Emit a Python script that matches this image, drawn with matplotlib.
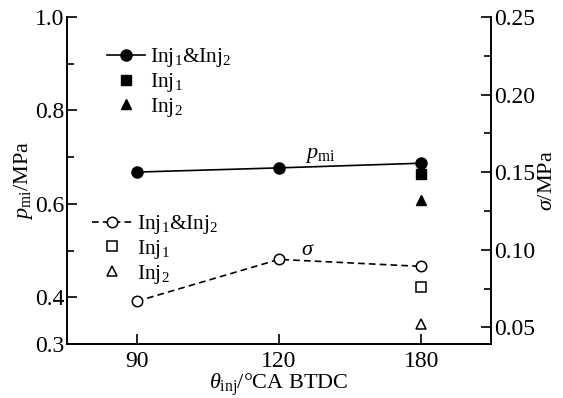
import matplotlib
matplotlib.use("Agg")
import matplotlib.pyplot as plt
from matplotlib.lines import Line2D
from matplotlib.ticker import MultipleLocator

plt.rcParams['font.family'] = ['Liberation Serif', 'DejaVu Serif']
plt.rcParams['mathtext.fontset'] = 'custom'
plt.rcParams['mathtext.rm'] = 'Liberation Serif'
plt.rcParams['mathtext.it'] = 'Liberation Serif:italic'
plt.rcParams['font.size'] = 16

# data
categories = ['90', '120', '180']
pmi_both = [0.668, 0.677, 0.687]
pmi_inj1 = [0.664]
pmi_inj2 = [0.608]
sigma_both = [0.0668, 0.0938, 0.0893]
sigma_inj1 = [0.0758]
sigma_inj2 = [0.052]

x = list(range(len(categories)))

fig = plt.figure(figsize=(5.63, 3.98), dpi=100)
ax = fig.add_axes([0.119, 0.1357, 0.753, 0.8216])
ax2 = ax.twinx()

ax.plot(x, pmi_both, color='black', lw=1.2, marker='o', ms=8)
ax.plot(x[-1:], pmi_inj1, ls='none', marker='s', color='black', ms=6.5)
ax.plot(x[-1:], pmi_inj2, ls='none', marker='^', color='black', ms=6.5)

ax2.plot(x, sigma_both, color='black', lw=1.2, ls=(0, (4, 2.5)), marker='o', ms=7.5,
         mfc='white', mew=1.1)
ax2.plot(x[-1:], sigma_inj1, ls='none', marker='s', mfc='white', mec='black', ms=6.5, mew=1.1)
ax2.plot(x[-1:], sigma_inj2, ls='none', marker='^', mfc='white', mec='black', ms=6.5, mew=1.1)

ax.set_xlim(-0.49, 2.49)
ax.set_ylim(0.3, 1.0)
ax2.set_ylim(0.0393, 0.25)
ax.set_xticks(x)
ax.set_xticklabels(categories)
ax.set_yticks([0.3, 0.4, 0.6, 0.8, 1.0])
ax.set_yticklabels(['0.3', '0.4', '0.6', '0.8', '1.0'])
ax.yaxis.set_minor_locator(MultipleLocator(0.1))
ax2.set_yticks([0.05, 0.10, 0.15, 0.20, 0.25])
ax2.set_yticklabels(['0.05', '0.10', '0.15', '0.20', '0.25'])
ax2.yaxis.set_minor_locator(MultipleLocator(0.025))

for a in (ax, ax2):
    a.spines['top'].set_visible(False)
    for s in a.spines.values():
        s.set_linewidth(1.2)
    a.tick_params(which='major', direction='in', length=7, width=1.2, labelsize=17, pad=2)
    a.tick_params(which='minor', direction='in', length=5, width=1.2)
ax.tick_params(axis='x', pad=5)

ax.set_xlabel(r'$\mathit{\theta}_{\mathrm{inj}}$/°CA BTDC', fontsize=16, labelpad=0)
ax.set_ylabel(r'$\mathit{p}_{\mathrm{mi}}$/MPa', fontsize=16, labelpad=0)
ax2.set_ylabel(r'$\mathit{\sigma}$/MPa', fontsize=16, labelpad=2)

ax.text(1.29, 0.683, r'$\mathit{p}_{\mathrm{mi}}$', fontsize=16, ha='center', va='bottom')
ax2.text(1.2, 0.0935, r'$\mathit{\sigma}$', fontsize=16, ha='center', va='bottom')

h1 = [Line2D([], [], color='black', lw=1.2, marker='o', ms=8),
      Line2D([], [], ls='none', color='black', marker='s', ms=6.5),
      Line2D([], [], ls='none', color='black', marker='^', ms=6.5)]
labels = [r'Inj$_1$&Inj$_2$', r'Inj$_1$', r'Inj$_2$']
leg1 = ax.legend(h1, labels, loc='upper left', bbox_to_anchor=(0.095, 0.91), frameon=False,
                 handlelength=1.75, handletextpad=0.22, labelspacing=0.08, fontsize=15.5,
                 borderaxespad=0, borderpad=0)

h2 = [Line2D([], [], color='black', lw=1.2, ls=(0, (4, 2.5)), marker='o', ms=7.5, mfc='white', mew=1.1),
      Line2D([], [], ls='none', marker='s', mfc='white', mec='black', ms=6.5, mew=1.1),
      Line2D([], [], ls='none', marker='^', mfc='white', mec='black', ms=6.5, mew=1.1)]
leg2 = ax2.legend(h2, labels, loc='upper left', bbox_to_anchor=(0.059, 0.40), frameon=False,
                  handlelength=1.9, handletextpad=0.2, labelspacing=0.08, fontsize=15.5,
                  borderaxespad=0, borderpad=0)

fig.savefig('out.png', dpi=100)
